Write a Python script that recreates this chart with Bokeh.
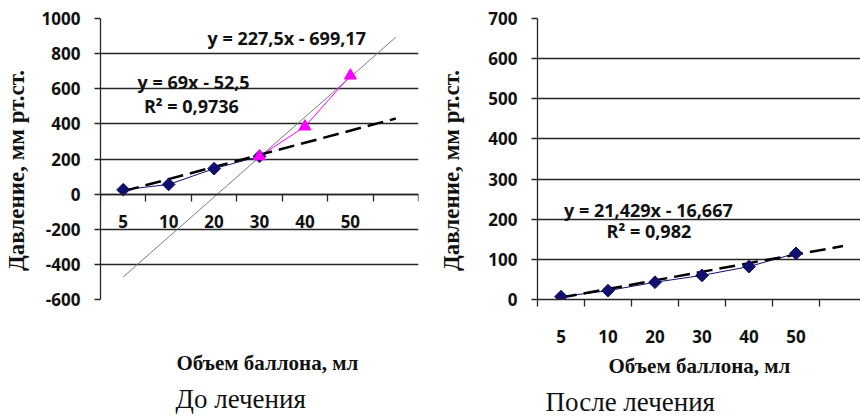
import math
from bokeh.plotting import figure
from bokeh.models import LinearAxis, FixedTicker, Range1d, Title, Label
from bokeh.layouts import row
from bokeh.embed import file_html
from bokeh.resources import INLINE

# ---------------- data ----------------
categories = ["5", "10", "20", "30", "40", "50"]          # объем баллона, мл
before_low = [25, 55, 145, 215]                            # до лечения, ромбы (категории 5..30)
before_high = [215, 385, 675]                              # до лечения, треугольники (категории 30..50)
after_vals = [7, 22, 43, 60, 82, 115]                      # после лечения

trend_low = (69.0, -52.5)          # y = 69x - 52,5
trend_high = (227.5, -699.17)      # y = 227,5x - 699,17
trend_after = (21.429, -16.667)    # y = 21,429x - 16,667

y_ticks_before = [-600, -400, -200, 0, 200, 400, 600, 800, 1000]
y_ticks_after = [0, 100, 200, 300, 400, 500, 600, 700]

eq_low = "y = 69x - 52,5"
r2_low = "R² = 0,9736"
eq_high = "y = 227,5x - 699,17"
eq_after = "y = 21,429x - 16,667"
r2_after = "R² = 0,982"

x_title = "Объем баллона, мл"
y_title = "Давление, мм рт.ст."
captions = ["До лечения", "После лечения"]

n_cat = len(categories) + 1   # Excel category axis with one forecast slot
pos = list(range(1, len(categories) + 1))

SANS = "Open Sans"
SERIF = "Liberation Serif"
NAVY = "#10106e"
MAGENTA = "#ff00ff"
GRID = "#262626"
TXT = "#111111"
NBSP = "\u00a0"


def style_cat_axes(bnd, lab, standoff):
    bnd.axis_line_color = GRID
    bnd.axis_line_width = 1.3
    bnd.major_tick_line_color = GRID
    bnd.major_tick_line_width = 1.3
    bnd.major_tick_in = 0
    bnd.major_tick_out = 7
    bnd.minor_tick_line_color = None
    bnd.major_label_standoff = 0
    bnd.major_label_text_font_size = "0px"
    lab.major_label_overrides = {k: c for k, c in zip(pos, categories)}
    lab.axis_line_color = None
    lab.major_tick_line_color = None
    lab.minor_tick_line_color = None
    lab.major_tick_out = 0
    lab.major_tick_in = 0
    lab.major_label_standoff = standoff
    lab.major_label_text_font = SANS
    lab.major_label_text_font_style = "bold"
    lab.major_label_text_font_size = "17px"
    lab.major_label_text_color = TXT


def base_fig(y_ticks, x_end, border_left, border_right, label_standoff, ylabel_standoff, fixed):
    p = figure(width=430, height=419, x_range=Range1d(0.5, x_end),
               y_range=Range1d(y_ticks[0], y_ticks[-1]),
               output_backend="svg", toolbar_location=None, x_axis_type=None,
               min_border_left=border_left, min_border_right=border_right,
               min_border_top=18, min_border_bottom=120)
    p.outline_line_color = None
    p.xgrid.visible = False
    p.ygrid.ticker = FixedTicker(ticks=y_ticks)
    p.ygrid.grid_line_color = GRID
    p.ygrid.grid_line_width = 1.3
    ya = p.yaxis[0]
    ya.ticker = FixedTicker(ticks=y_ticks)
    ya.major_label_overrides = {t: str(t) for t in y_ticks}
    ya.axis_line_color = GRID
    ya.axis_line_width = 1.3
    ya.major_tick_line_color = GRID
    ya.major_tick_line_width = 1.3
    ya.major_tick_in = 0
    ya.major_tick_out = 6
    ya.minor_tick_line_color = None
    ya.major_label_standoff = 14
    ya.major_label_text_font = SANS
    ya.major_label_text_font_style = "bold"
    ya.major_label_text_font_size = "17px"
    ya.major_label_text_color = TXT
    # trailing no-break spaces move the rotated title a little down, as in the original
    ya.axis_label = y_title + NBSP * 4
    ya.axis_label_text_font = SERIF
    ya.axis_label_text_font_style = "bold"
    ya.axis_label_text_font_size = "23px"
    ya.axis_label_text_color = TXT
    ya.axis_label_standoff = ylabel_standoff

    kw = dict(fixed_location=0) if fixed else {}
    bnd = LinearAxis(ticker=FixedTicker(ticks=[k + 0.5 for k in range(n_cat + 1)]), **kw)
    lab = LinearAxis(ticker=FixedTicker(ticks=pos), **kw)
    style_cat_axes(bnd, lab, label_standoff)
    p.add_layout(bnd, "below")
    p.add_layout(lab, "below")
    return p


def add_text(p, x, y, text):
    p.add_layout(Label(x=x, y=y, text=text, text_font=SANS, text_font_style="bold",
                       text_font_size="18px", text_color=TXT,
                       text_align="center", text_baseline="middle"))


def x_title_as_title(p, offset, standoff):
    p.add_layout(Title(text=x_title, align="left", offset=offset, standoff=standoff,
                       text_font=SERIF, text_font_style="bold", text_font_size="21px",
                       text_color=TXT, text_line_height=1.0), "below")


def x_title_as_axis(p, standoff, shift_spaces):
    # an x-axis without ticks that only carries the axis title
    ax = LinearAxis(ticker=FixedTicker(ticks=[]), axis_label=NBSP * shift_spaces + x_title)
    ax.axis_line_color = None
    ax.major_tick_line_color = None
    ax.minor_tick_line_color = None
    ax.major_tick_out = 0
    ax.major_tick_in = 0
    ax.minor_tick_out = 0
    ax.major_label_standoff = 0
    ax.major_label_text_font_size = "0px"
    ax.axis_label_standoff = standoff
    ax.axis_label_text_font = SERIF
    ax.axis_label_text_font_style = "bold"
    ax.axis_label_text_font_size = "21px"
    ax.axis_label_text_color = TXT
    p.add_layout(ax, "below")


def add_caption(p, text, offset, standoff):
    p.add_layout(Title(text=text, align="left", offset=offset, standoff=standoff,
                       text_font=SERIF, text_font_style="normal", text_font_size="27px",
                       text_color=TXT, text_line_height=0.9), "below")


def diamonds(p, xs, ys):
    p.scatter(xs, ys, marker="square", size=9, angle=math.pi / 4,
              fill_color=NAVY, line_color=NAVY)


# ---------------- left: до лечения ----------------
p1 = base_fig(y_ticks_before, n_cat + 0.5, 97, 12, 21, 10, True)

x_low = pos[:len(before_low)]
x_high = pos[len(categories) - len(before_high):]

tx = [1, n_cat]
p1.line(tx, [trend_high[0] * v + trend_high[1] for v in tx], line_color="#7a7a7a", line_width=1)
p1.line(x_low, before_low, line_color=NAVY, line_width=1)
p1.line(x_high, before_high, line_color=MAGENTA, line_width=1)
p1.line(tx, [trend_low[0] * v + trend_low[1] for v in tx], line_color="black",
        line_width=2.5, line_dash="16 7")
diamonds(p1, x_low, before_low)
p1.scatter(x_high, before_high, marker="triangle", size=12, fill_color=MAGENTA, line_color=MAGENTA)

add_text(p1, 4.6, 888, eq_high)
add_text(p1, 2.55, 640, eq_low)
add_text(p1, 2.5, 500, r2_low)
x_title_as_axis(p1, 51, 3)
add_caption(p1, captions[0], 75, 8)

# ---------------- right: после лечения ----------------
p2 = base_fig(y_ticks_after, 0.5 + 323 / 47, 107, 0, 23, 21, False)

p2.line(pos, after_vals, line_color=NAVY, line_width=1)
p2.line(tx, [trend_after[0] * v + trend_after[1] for v in tx], line_color="black",
        line_width=2.5, line_dash="16 7")
diamonds(p2, pos, after_vals)

add_text(p2, 2.86, 222, eq_after)
add_text(p2, 2.87, 170, r2_after)
x_title_as_title(p2, 71, 12)
add_caption(p2, captions[1], 8, 3)

layout = row(p1, p2, spacing=0)
open("out.html", "w").write(file_html(layout, INLINE))
